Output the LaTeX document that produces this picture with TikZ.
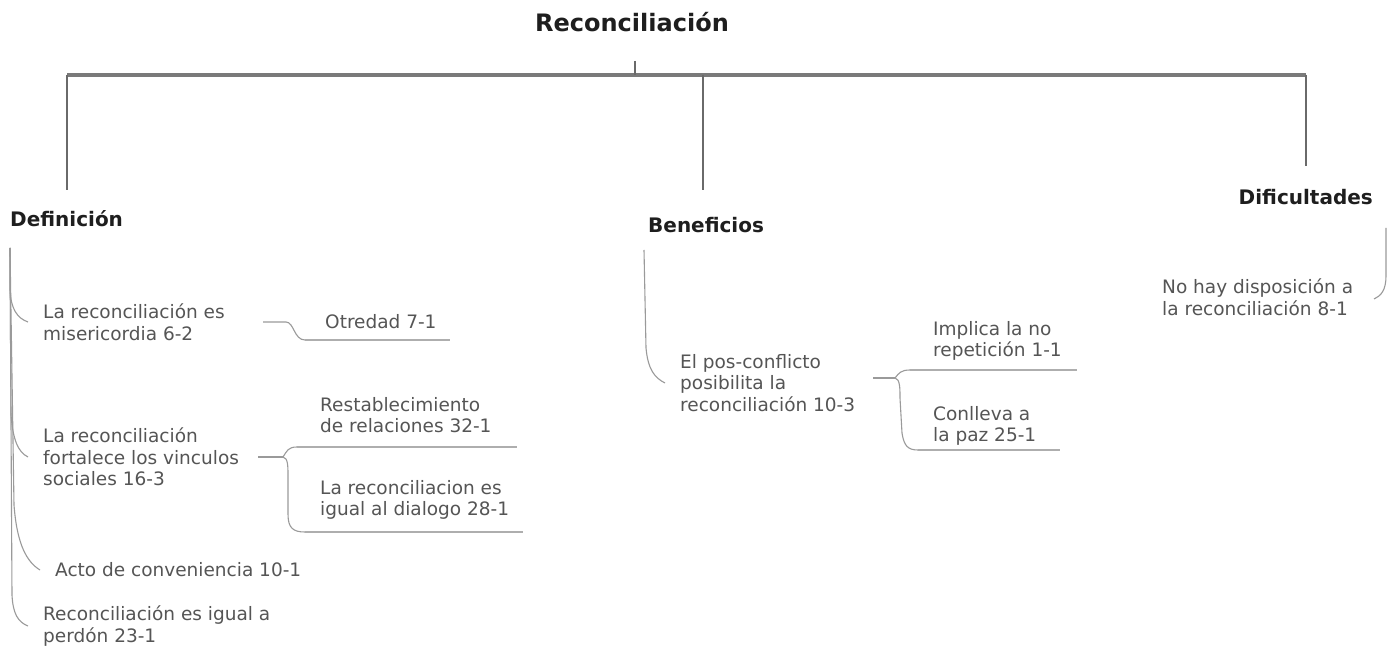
\documentclass[tikz,border=0pt]{standalone}
\usepackage{fontspec}
\setmainfont{DejaVu Sans}
\definecolor{txt}{HTML}{555555}
\definecolor{head}{HTML}{1E1E1E}
\definecolor{barc}{HTML}{7A7A7A}
\definecolor{vertc}{HTML}{6A6A6A}
\definecolor{brc}{HTML}{9A9A9A}
\begin{document}
\begin{tikzpicture}[x=1pt,y=-1pt,
  leaf/.style={anchor=west,inner sep=0pt,align=left,text=txt,font=\fontsize{18.5}{21.5}\selectfont},
  heading/.style={inner sep=0pt,text=head,font=\bfseries\fontsize{20}{23}\selectfont},
  topbar/.style={draw=barc,line width=4.5pt},
  vert/.style={draw=vertc,line width=2pt},
  branch/.style={draw=brc,line width=1.1pt},
  uline/.style={draw=brc!80,line width=1.1pt}]
\useasboundingbox[fill=white] (0,0) rectangle (1395,652);

% title and top bar
\node[heading,font=\bfseries\fontsize{24}{27}\selectfont] (title) at (632,22) {Reconciliación};
\coordinate (tk) at (635,61);
\coordinate (tkb) at (635,75);
\coordinate (bl) at (67,75);
\coordinate (bm) at (703,75);
\coordinate (brr) at (1306,75);
\draw[topbar] (bl) -- (brr);
\draw[vert,line width=1.6pt] (tk) -- (tkb);

% headings
\node[heading,anchor=west] (def) at (10,219) {Definición};
\node[heading,anchor=west] (ben) at (648,225) {Beneficios};
\node[heading,anchor=east] (dif) at (1373,197) {Dificultades};
\coordinate (defT) at (67,190);
\coordinate (benT) at (703,190);
\coordinate (difT) at (1306,166);
\draw[vert] (bl) -- (defT);
\draw[vert] (bm) -- (benT);
\draw[vert] (brr) -- (difT);

% Definicion children
\node[leaf] (d1) at (43,322) {La reconciliación es\\misericordia 6-2};
\node[leaf] (d1a) at (325,322) {Otredad 7-1};
\node[leaf] (d2) at (43,457) {La reconciliación\\fortalece los vinculos\\sociales 16-3};
\node[leaf] (d2a) at (320,415) {Restablecimiento\\de relaciones 32-1};
\node[leaf] (d2b) at (320,500) {La reconciliacion es\\igual al dialogo 28-1};
\node[leaf] (d3) at (55,570) {Acto de conveniencia 10-1};
\node[leaf] (d4) at (43,626) {Reconciliación es igual a\\perdón 23-1};

\coordinate (dr) at (10,248);
\draw[branch] (dr) -- (10,290) .. controls (11,309) and (17,318) .. ([xshift=-15pt]d1.west);
\draw[branch] (dr) -- (11,415) .. controls (13,440) and (18,452) .. ([xshift=-15pt]d2.west);
\draw[branch] (dr) -- (14,505) .. controls (17,545) and (27,562) .. ([xshift=-15pt]d3.west);
\draw[branch] (dr) -- (12,595) .. controls (13,614) and (18,622) .. ([xshift=-15pt]d4.west);

% Otredad
\coordinate (j1) at (263,322);
\coordinate (u1s) at (305,340);
\coordinate (u1e) at (450,340);
\draw[branch] (j1) -- (286,322) .. controls (294,322) and (294,340) .. (u1s);
\draw[uline] (u1s) -- (u1e);

% fortalece sub-branches
\coordinate (j2) at (258,457);
\coordinate (k2) at (283,457);
\coordinate (u2s) at (297,447);
\coordinate (u2e) at (517,447);
\coordinate (u3s) at (305,532);
\coordinate (u3e) at (523,532);
\draw[branch] (j2) -- (k2);
\draw[branch] (k2) .. controls (287,451) and (288,447) .. (u2s);
\draw[uline] (u2s) -- (u2e);
\draw[branch] (k2) .. controls (288,458) and (288,466) .. (288,476) -- (288,514) .. controls (288,528) and (293,532) .. (u3s);
\draw[uline] (u3s) -- (u3e);

% Beneficios
\node[leaf] (b1) at (680,383) {El pos-conflicto\\posibilita la\\reconciliación 10-3};
\node[leaf] (b1a) at (933,341) {Implica la no\\repetición 1-1};
\node[leaf] (b1b) at (933,426) {Conlleva a\\la paz 25-1};
\coordinate (bmr) at (644,250);
\draw[branch] (bmr) -- (646,348) .. controls (648,370) and (655,378) .. ([xshift=-15pt]b1.west);
\coordinate (j3) at (873,378);
\coordinate (k3) at (895,378);
\coordinate (u4s) at (910,370);
\coordinate (u4e) at (1077,370);
\coordinate (u5s) at (918,450);
\coordinate (u5e) at (1060,450);
\draw[branch] (j3) -- (k3);
\draw[branch] (k3) .. controls (899,373) and (901,370) .. (u4s);
\draw[uline] (u4s) -- (u4e);
\draw[branch] (k3) .. controls (900,379) and (900,388) .. (900,398) -- (902,433) .. controls (904,446) and (908,450) .. (u5s);
\draw[uline] (u5s) -- (u5e);

% Dificultades
\node[leaf] (f1) at (1162,297) {No hay disposición a\\la reconciliación 8-1};
\coordinate (fr) at (1386,228);
\coordinate (fe) at (1374,299);
\draw[branch] (fr) -- (1386,276) .. controls (1386,290) and (1381,296) .. (fe);
\end{tikzpicture}
\end{document}
